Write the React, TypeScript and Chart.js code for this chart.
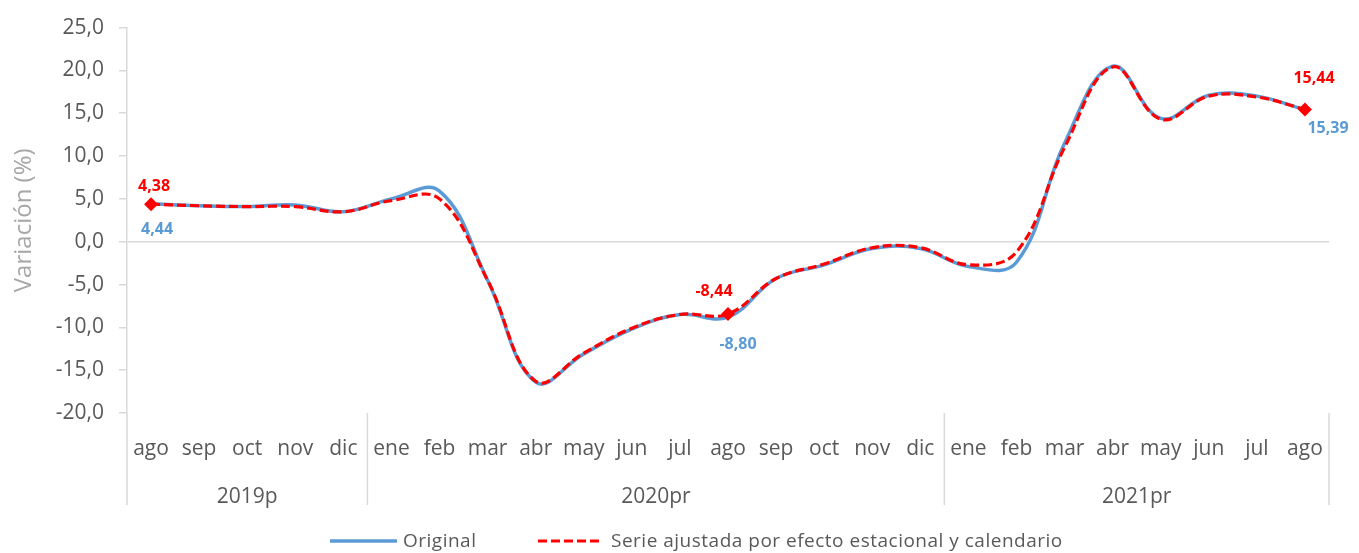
import React, { useEffect, useRef } from "react";
import { Chart, registerables } from "chart.js";

Chart.register(...registerables);

const months = ["ago","sep","oct","nov","dic","ene","feb","mar","abr","may","jun","jul","ago","sep","oct","nov","dic","ene","feb","mar","abr","may","jun","jul","ago"];
const yearLabels = ["2019p", "2020pr", "2021pr"];
const yearStart = [0, 5, 17];
const yearEnd = [4, 16, 24];

const original = [4.44, 4.2, 4.1, 4.3, 3.5, 5.0, 5.9, -4.5, -16.4, -13.1, -10.2, -8.5, -8.80, -4.3, -2.7, -0.8, -0.8, -2.9, -2.4, 11.5, 20.5, 14.4, 17.1, 17.0, 15.39];
const adjusted = [4.38, 4.2, 4.1, 4.1, 3.5, 4.8, 5.0, -4.5, -16.3, -13.0, -10.1, -8.5, -8.44, -4.3, -2.6, -0.7, -0.7, -2.7, -1.2, 11.0, 20.4, 14.3, 17.0, 16.9, 15.44];
const labeledIdx = [0, 12, 24];

const BLUE = "#5B9BD5";
const RED = "#FF0000";
const FONT = "'Open Sans', 'Noto Sans', sans-serif";

const fmt = (v: number, d: number) => v.toFixed(d).replace(".", ",");

export default function App() {
  const ref = useRef<HTMLCanvasElement | null>(null);
  useEffect(() => {
    document.body.style.margin = "0";
    const canvas = ref.current!;
    const extras = {
      id: "extras",
      afterDraw(chart: any) {
        const ctx = chart.ctx;
        const x = chart.scales.x;
        const area = chart.chartArea;
        ctx.save();
        ctx.strokeStyle = "#D9D9D9";
        ctx.lineWidth = 1.5;
        const half = (x.getPixelForValue(1) - x.getPixelForValue(0)) / 2;
        const seps = [x.getPixelForValue(0) - half];
        yearEnd.forEach((e) => seps.push(x.getPixelForValue(e) + half));
        seps.forEach((sx) => {
          ctx.beginPath();
          ctx.moveTo(sx, area.bottom);
          ctx.lineTo(sx, 505);
          ctx.stroke();
        });
        ctx.fillStyle = "#595959";
        ctx.font = `21px ${FONT}`;
        ctx.textAlign = "center";
        ctx.textBaseline = "middle";
        yearLabels.forEach((l, i) => {
          const cx = (x.getPixelForValue(yearStart[i]) + x.getPixelForValue(yearEnd[i])) / 2;
          ctx.fillText(l, cx, 497);
        });
        const m0 = chart.getDatasetMeta(0);
        const m1 = chart.getDatasetMeta(1);
        ctx.font = `bold 16px ${FONT}`;
        const redOff = [[3, -18], [-14, -23], [9, -31]];
        const blueOff = [[6, 26], [10, 27], [23, 19]];
        labeledIdx.forEach((idx, k) => {
          const pr = m0.data[idx];
          ctx.fillStyle = RED;
          ctx.fillText(fmt(adjusted[idx], 2), pr.x + redOff[k][0], pr.y + redOff[k][1]);
          const pb = m1.data[idx];
          ctx.fillStyle = BLUE;
          ctx.fillText(fmt(original[idx], 2), pb.x + blueOff[k][0], pb.y + blueOff[k][1]);
        });
        ctx.lineWidth = 3.5;
        ctx.strokeStyle = BLUE;
        ctx.setLineDash([]);
        ctx.beginPath();
        ctx.moveTo(330, 541);
        ctx.lineTo(397, 541);
        ctx.stroke();
        ctx.strokeStyle = RED;
        ctx.lineWidth = 3.2;
        ctx.setLineDash([9, 4]);
        ctx.beginPath();
        ctx.moveTo(538, 541);
        ctx.lineTo(600, 541);
        ctx.stroke();
        ctx.setLineDash([]);
        ctx.fillStyle = "#595959";
        ctx.font = `19px ${FONT}`;
        ctx.textAlign = "left";
        (ctx as any).letterSpacing = "0.5px";
        ctx.fillText("Original", 403, 542);
        ctx.fillText("Serie ajustada por efecto estacional y calendario", 611, 542);
        (ctx as any).letterSpacing = "0px";
        ctx.restore();
      },
    };
    const chart = new Chart(canvas, {
      type: "line",
      data: {
        labels: months,
        datasets: [
          {
            label: "Serie ajustada por efecto estacional y calendario",
            data: adjusted,
            borderColor: RED,
            backgroundColor: RED,
            borderWidth: 3.2,
            borderDash: [9, 4],
            tension: 0.4,
            pointStyle: "rectRot",
            pointRadius: adjusted.map((_, i) => (labeledIdx.includes(i) ? 7 : 0)),
            pointBorderWidth: 0,
            order: 0,
          },
          {
            label: "Original",
            data: original,
            borderColor: BLUE,
            backgroundColor: BLUE,
            borderWidth: 3.5,
            tension: 0.4,
            pointRadius: 0,
            order: 1,
          },
        ],
      },
      options: {
        animation: false,
        responsive: false,
        layout: { padding: { top: 23, right: 30, left: 0, bottom: 0 } },
        plugins: { legend: { display: false }, tooltip: { enabled: false } },
        scales: {
          x: {
            offset: true,
            grid: { display: false, drawTicks: false },
            border: { display: false },
            ticks: {
              autoSkip: false,
              maxRotation: 0,
              padding: 23,
              color: "#595959",
              font: { family: FONT, size: 21 },
            },
            afterFit: (s: any) => { s.height = 140; },
          },
          y: {
            min: -20,
            max: 25,
            ticks: {
              stepSize: 5,
              padding: 15,
              color: "#595959",
              font: { family: FONT, size: 21 },
              callback: (v: any) => fmt(Number(v), 1),
            },
            grid: {
              color: (c: any) => (c.tick && c.tick.value === 0 ? "#D9D9D9" : "rgba(0,0,0,0)"),
              tickColor: "#D9D9D9",
              tickLength: 8,
              lineWidth: 1.5,
            },
            border: { display: true, color: "#D9D9D9", width: 1.5 },
            title: {
              display: true,
              text: "Variación (%)",
              color: "#A6A6A6",
              font: { family: FONT, size: 24 },
              padding: { top: 10, bottom: 0 },
            },
            afterFit: (s: any) => { s.width = 127; },
          },
        },
      },
      plugins: [extras],
    });
    return () => chart.destroy();
  }, []);
  return <canvas ref={ref} width={1359} height={553} style={{ display: "block" }} />;
}
